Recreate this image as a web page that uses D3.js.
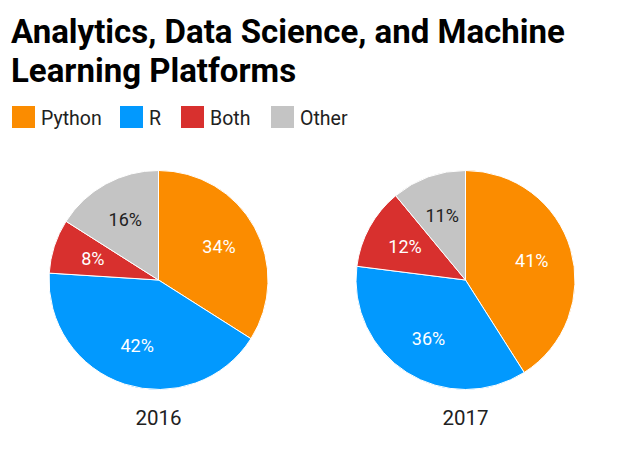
<!DOCTYPE html>
<html>
<head>
<meta charset="utf-8">
<script src="https://cdn.jsdelivr.net/npm/d3@7"></script>
<style>
  html, body { margin: 0; padding: 0; background: #fff; }
  svg { display: block; font-family: Roboto, "Noto Sans", sans-serif; }
</style>
</head>
<body>
<svg id="chart" width="618" height="469"></svg>
<script>
const titleLines = ["Analytics, Data Science, and Machine", "Learning Platforms"];
const categories = ["Python", "R", "Both", "Other"];
const years = ["2016", "2017"];
const values2016 = [34, 42, 8, 16];
const values2017 = [41, 36, 12, 11];
const colors = ["#FB8C00", "#0299FE", "#D8302E", "#C4C4C4"];
const labelColors = ["#ffffff", "#ffffff", "#ffffff", "#212121"];

const seriesByYear = [values2016, values2017];

const svg = d3.select("#chart");

// Title
svg.append("text")
  .attr("x", 11)
  .attr("y", 43)
  .attr("font-size", 33)
  .attr("font-weight", 700)
  .attr("fill", "#000")
  .selectAll("tspan")
  .data(titleLines)
  .join("tspan")
  .attr("x", 11)
  .attr("dy", (d, i) => i === 0 ? 0 : 39)
  .text(d => d);

// Legend
const color = d3.scaleOrdinal().domain(categories).range(colors);
const legendX = [12, 120, 181, 271];
const legend = svg.append("g");
const items = legend.selectAll("g")
  .data(categories)
  .join("g")
  .attr("transform", (d, i) => `translate(${legendX[i]},106)`);
items.append("rect")
  .attr("width", 23)
  .attr("height", 22)
  .attr("fill", d => color(d));
items.append("text")
  .attr("x", 29)
  .attr("y", 19)
  .attr("font-size", 19.5)
  .attr("fill", "#212121")
  .text(d => d);

// Pies
const xScale = d3.scalePoint().domain(years).range([158.5, 465.5]);
const cy = 280;
const radius = 109.5;
const arc = d3.arc().innerRadius(0).outerRadius(radius);
const labelArc = d3.arc().innerRadius(69).outerRadius(69);

years.forEach((yr, yi) => {
  const vals = seriesByYear[yi];
  const data = vals.map((v, i) => ({ cat: categories[i], value: v, idx: i }));
  const arcs = d3.pie().sort(null).value(d => d.value)(data);
  const g = svg.append("g").attr("transform", `translate(${xScale(yr)},${cy})`);
  g.selectAll("path")
    .data(arcs)
    .join("path")
    .attr("d", arc)
    .attr("fill", d => color(d.data.cat))
    .attr("stroke", "#fff")
    .attr("stroke-width", 1);
  g.selectAll("text.lbl")
    .data(arcs)
    .join("text")
    .attr("class", "lbl")
    .attr("transform", d => `translate(${labelArc.centroid(d)})`)
    .attr("text-anchor", "middle")
    .attr("dy", "0.36em")
    .attr("font-size", 18)
    .attr("fill", d => labelColors[d.data.idx])
    .text(d => d.data.value + "%");
  svg.append("text")
    .attr("x", xScale(yr))
    .attr("y", 425)
    .attr("text-anchor", "middle")
    .attr("font-size", 20.5)
    .attr("fill", "#212121")
    .text(yr);
});
</script>
</body>
</html>
